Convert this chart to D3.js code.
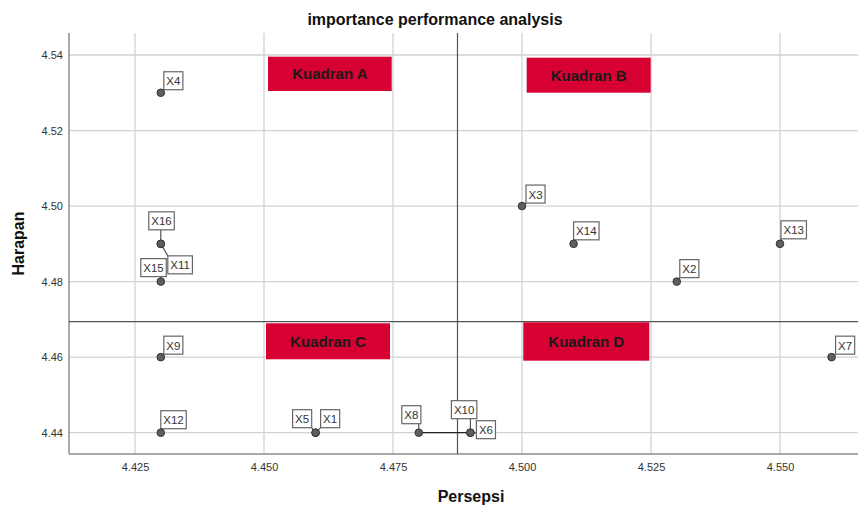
<!DOCTYPE html>
<html><head><meta charset="utf-8">
<script src="https://cdn.jsdelivr.net/npm/d3@7"></script>
<style>body{margin:0;background:#fff}svg{display:block;font-family:"Liberation Sans",Arial,sans-serif}</style>
</head><body>
<svg id="c" width="859" height="507"></svg>
<script>
// ---- data ----
const labels   = ["X1","X2","X3","X4","X5","X6","X7","X8","X9","X10","X11","X12","X13","X14","X15","X16"];
const persepsi = [4.46,4.53,4.50,4.43,4.46,4.49,4.56,4.48,4.43,4.49,4.43,4.43,4.55,4.51,4.43,4.43];
const harapan  = [4.44,4.48,4.50,4.53,4.44,4.44,4.46,4.44,4.46,4.44,4.49,4.44,4.49,4.49,4.48,4.49];
const xTicks = [4.425,4.450,4.475,4.500,4.525,4.550];
const yTicks = [4.44,4.46,4.48,4.50,4.52,4.54];
const refX = 4.4875, refY = 4.4694;
const quadrantNames = ["Kuadran A","Kuadran B","Kuadran C","Kuadran D"];
const connectors = [["X8","X6"]];

// ---- layout (not data) ----
const quadBoxes = [ // [x0,x1,yTop,yBottom] in data units
  [4.45078,4.47475,4.53955,4.53047],
  [4.50091,4.52494,4.53929,4.53002],
  [4.45039,4.47442,4.46897,4.45944],
  [4.50025,4.52467,4.46923,4.45907]
];
const labelOffsets = { // box top-left relative to point, px
  X1:[5,-23],X2:[3,-22],X3:[4,-21],X4:[3,-21],X5:[-23,-23],X6:[6,-12],X7:[4,-21],X8:[-17,-27],
  X9:[3,-21],X10:[-19,-32],X11:[7,12],X12:[0,-22],X13:[1,-23],X14:[0,-22],X15:[-20,-23],X16:[-12,-32]
};

const svg = d3.select("#c");
const L=69,R=858,T=33,B=454;
const x = d3.scaleLinear().domain([4.41221,4.56512]).range([L,R]);
const y = d3.scaleLinear().domain([4.43436,4.54582]).range([B,T]);

// title
svg.append("text").attr("x",435).attr("y",25).attr("text-anchor","middle")
  .attr("font-size",16).attr("font-weight","bold").attr("fill","#111").text("importance performance analysis");

// grid
const g = svg.append("g");
g.selectAll(".vg").data(xTicks).join("line").attr("x1",d=>x(d)).attr("x2",d=>x(d)).attr("y1",T).attr("y2",B)
  .attr("stroke","#d2d2d2").attr("stroke-width",1.3);
g.selectAll(".hg").data(yTicks).join("line").attr("x1",L).attr("x2",R).attr("y1",d=>y(d)).attr("y2",d=>y(d))
  .attr("stroke","#d2d2d2").attr("stroke-width",1.3);

// axes
const xAxis = d3.axisBottom(x).tickValues(xTicks).tickFormat(d3.format(".3f")).tickSize(0).tickPadding(9);
const yAxis = d3.axisLeft(y).tickValues(yTicks).tickFormat(d3.format(".2f")).tickSize(0).tickPadding(6);
const xa = svg.append("g").attr("transform",`translate(0,${B})`).call(xAxis);
const ya = svg.append("g").attr("transform",`translate(${L},0)`).call(yAxis);
[xa,ya].forEach(a=>{
  a.select(".domain").remove();
  a.selectAll("text").attr("font-size",11).attr("fill","#333").attr("font-family","Liberation Sans,Arial,sans-serif");
});
svg.append("line").attr("x1",L).attr("x2",L).attr("y1",T).attr("y2",B).attr("stroke","#8c8c8c").attr("stroke-width",1.5);
svg.append("line").attr("x1",L).attr("x2",R).attr("y1",B).attr("y2",B).attr("stroke","#8c8c8c").attr("stroke-width",1.5);

// axis titles
svg.append("text").attr("x",471).attr("y",502).attr("text-anchor","middle").attr("font-size",16)
  .attr("font-weight","bold").attr("fill","#111").text("Persepsi");
svg.append("text").attr("transform","translate(23.5,243.5) rotate(-90)").attr("text-anchor","middle")
  .attr("font-size",16).attr("font-weight","bold").attr("fill","#111").text("Harapan");

// reference lines
svg.append("line").attr("x1",x(refX)).attr("x2",x(refX)).attr("y1",T).attr("y2",B).attr("stroke","#555").attr("stroke-width",1.2);
svg.append("line").attr("x1",L).attr("x2",R).attr("y1",y(refY)).attr("y2",y(refY)).attr("stroke","#555").attr("stroke-width",1.2);

// quadrant boxes
quadBoxes.forEach((b,i)=>{
  const x0=x(b[0]),x1=x(b[1]),y0=y(b[2]),y1=y(b[3]);
  svg.append("rect").attr("x",x0).attr("y",y0).attr("width",x1-x0).attr("height",y1-y0).attr("fill","#d70033");
  svg.append("text").attr("x",(x0+x1)/2).attr("y",(y0+y1)/2+5.5).attr("text-anchor","middle")
    .attr("font-size",15).attr("font-weight","bold").attr("fill","#1a1a1a").text(quadrantNames[i]);
});

// connectors
const idx = n=>labels.indexOf(n);
connectors.forEach(([a,b])=>{
  svg.append("line").attr("x1",x(persepsi[idx(a)])).attr("y1",y(harapan[idx(a)]))
    .attr("x2",x(persepsi[idx(b)])).attr("y2",y(harapan[idx(b)])).attr("stroke","#222").attr("stroke-width",1.2);
});

// points
const pts = labels.map((l,i)=>({l,px:x(persepsi[i]),py:y(harapan[i])}));
// leaders + labels
const lab = svg.append("g");
pts.forEach(p=>{
  const o=labelOffsets[p.l];
  const t = lab.append("text").attr("font-size",11.5).attr("fill","#333").text(p.l);
  const w = t.node().getComputedTextLength()+5, h=18;
  const bx=p.px+o[0], by=p.py+o[1];
  const cx=Math.max(bx,Math.min(p.px,bx+w)), cy=Math.max(by,Math.min(p.py,by+h));
  lab.insert("line","text").attr("x1",p.px).attr("y1",p.py).attr("x2",cx).attr("y2",cy).attr("stroke","#555").attr("stroke-width",1.2);
  lab.insert("rect","text").attr("x",bx).attr("y",by).attr("width",w).attr("height",h)
    .attr("fill","#fff").attr("stroke","#666").attr("stroke-width",1.2);
  t.attr("x",bx+2.5).attr("y",by+13.5);
});
svg.append("g").selectAll("circle").data(pts).join("circle").attr("cx",d=>d.px).attr("cy",d=>d.py).attr("r",3.8)
  .attr("fill","#5e5e5e").attr("stroke","#333").attr("stroke-width",1);
</script>
</body></html>
